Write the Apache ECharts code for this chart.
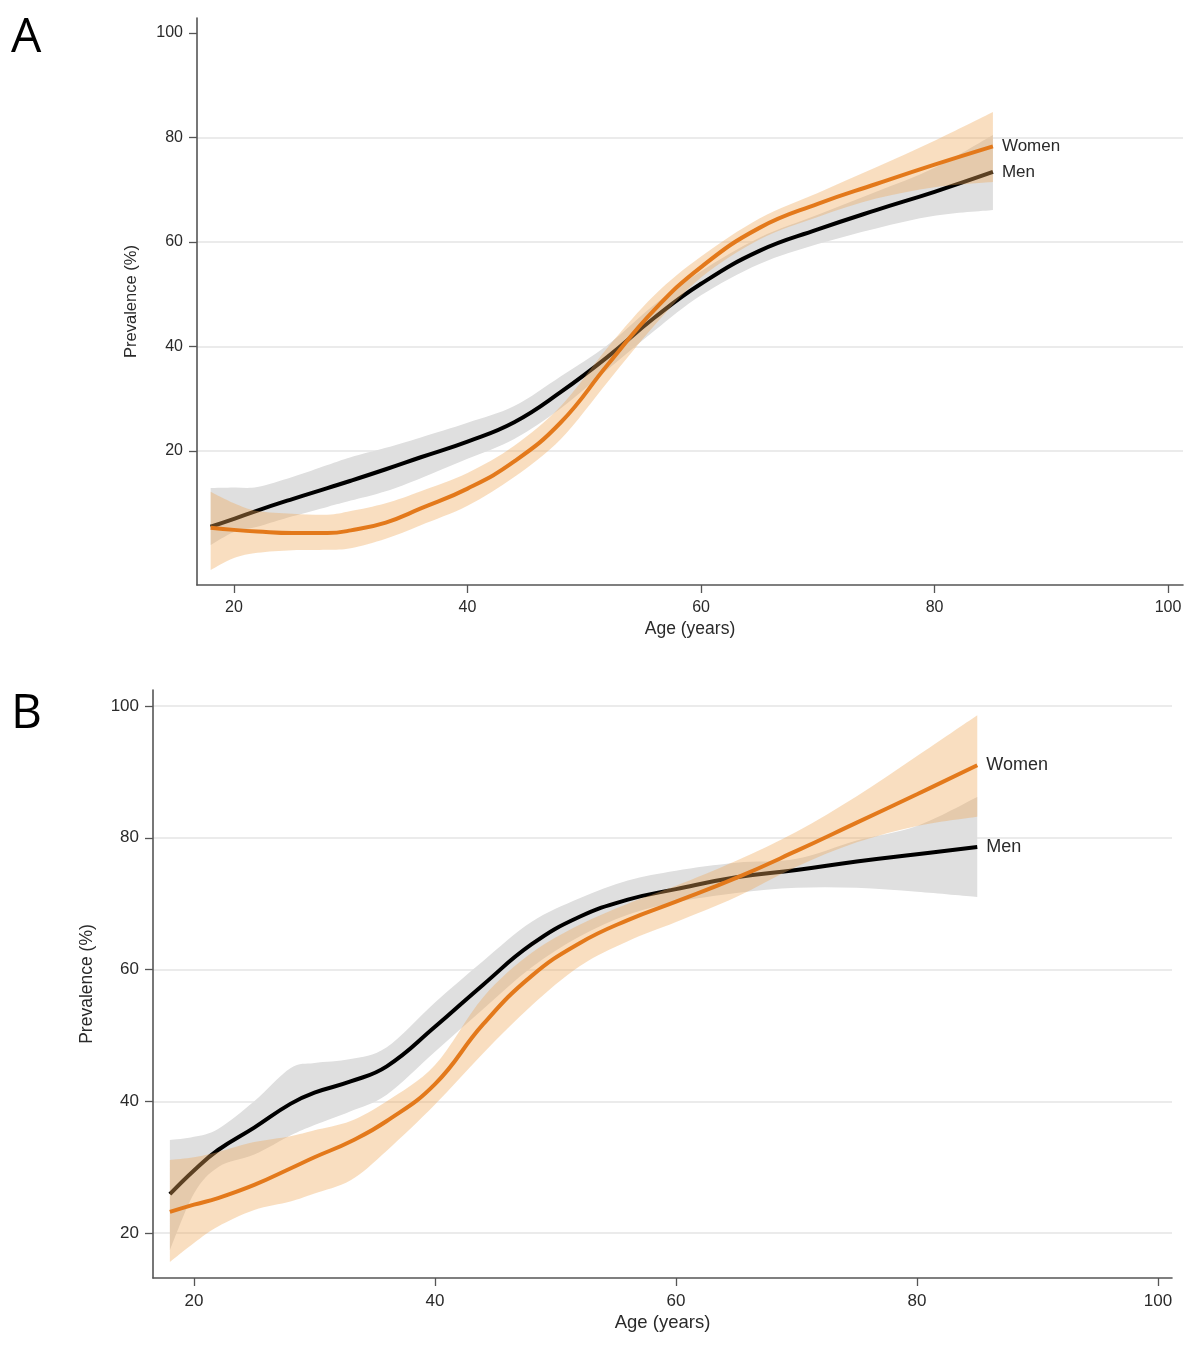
<!DOCTYPE html>
<html><head><meta charset="utf-8">
<script src="https://cdn.jsdelivr.net/npm/echarts@6/dist/echarts.min.js"></script>
<style>html,body{margin:0;padding:0;background:#fff}#c{width:1200px;height:1352px}</style>
</head><body><div id="c"></div>
<script>
// Age grid (years)
const ages = [18,20,22,25,28,30,33,36,40,44,48,52,56,60,65,70,75,80,85];
const tickValues = [20,40,60,80,100];

// Panel A
const menA     = [5.5,7.0,8.6,10.8,12.9,14.3,16.5,18.8,21.8,25.5,31.3,38.0,45.5,52.0,58.3,62.4,66.1,69.6,73.4];
const menALo   = [2.0,4.5,5.5,7.5,9.3,10.5,12.3,14.8,18.5,22.3,28.2,35.6,43.0,49.8,55.8,59.6,62.6,65.0,66.1];
const menAHi   = [12.9,13.0,13.1,15.0,17.3,18.8,20.6,22.6,25.4,28.6,34.3,40.3,48.0,54.4,60.8,65.2,69.6,74.2,80.5];
const womenA   = [5.3,4.9,4.6,4.3,4.3,4.8,6.3,9.0,12.8,18.0,25.5,36.5,47.0,55.2,62.7,67.3,71.1,74.8,78.3];
const womenALo = [-2.8,-0.5,0.5,1.0,1.1,1.4,3.2,5.8,9.5,15.0,22.3,33.2,44.0,53.2,60.5,64.8,68.3,70.5,71.5];
const womenAHi = [12.2,10.0,8.5,8.0,7.8,8.5,10.0,12.3,15.8,21.0,28.6,39.8,49.8,57.2,64.5,69.4,74.3,79.4,84.9];
const gridA = [20,40,60,80];

// Panel B
const menB     = [25.9,29.5,32.6,36.0,39.6,41.3,43.0,45.3,51.3,57.7,63.8,68.0,70.6,72.2,74.0,75.1,76.4,77.5,78.6];
const menBLo   = [17.4,26.0,30.0,31.9,34.8,36.4,38.5,41.0,47.5,54.0,60.3,65.0,68.3,70.2,71.6,72.4,72.4,71.8,71.0];
const menBHi   = [34.1,34.6,35.8,40.0,45.0,45.8,46.4,48.2,55.0,61.3,67.2,70.8,73.5,75.0,76.2,76.8,79.6,81.8,86.2];
const womenB   = [23.2,24.3,25.3,27.3,29.8,31.5,33.9,37.0,42.6,51.7,59.0,64.0,67.5,70.3,73.9,78.0,82.3,86.6,91.0];
const womenBLo = [15.6,18.5,21.0,23.5,24.8,26.0,28.0,32.5,39.5,47.3,54.5,60.5,64.3,67.2,71.0,75.6,79.3,81.8,83.2];
const womenBHi = [31.1,31.5,32.3,33.8,34.7,35.6,37.0,40.0,45.5,55.8,62.5,66.8,70.0,72.7,76.5,80.9,86.3,92.4,98.6];
const gridB = [20,40,60,80,100];

const FONT = "'Liberation Sans', Arial, Helvetica, sans-serif";
const AXIS_COLOR = '#555';
const TEXT_COLOR = '#2a2a2a';
const SMOOTH = 0.45;

function xAxisCfg(gi, min, max, fs, nfs) {
  return {
    type: 'value', gridIndex: gi, min: min, max: max,
    name: 'Age (years)', nameLocation: 'middle', nameGap: 35,
    nameTextStyle: {fontSize: nfs, color: TEXT_COLOR, fontFamily: FONT},
    axisLine: {show: true, onZero: false, lineStyle: {color: AXIS_COLOR, width: 1.6}},
    axisTick: {show: true, length: 8, customValues: tickValues, lineStyle: {color: AXIS_COLOR, width: 1.3}},
    axisLabel: {customValues: tickValues, fontSize: fs, color: TEXT_COLOR, fontFamily: FONT, margin: 15},
    splitLine: {show: false}
  };
}
function yAxisCfg(gi, min, max, fs, nfs, gap) {
  return {
    type: 'value', gridIndex: gi, min: min, max: max,
    name: 'Prevalence (%)', nameLocation: 'middle', nameGap: gap, nameRotate: 90,
    nameTextStyle: {fontSize: nfs, color: TEXT_COLOR, fontFamily: FONT},
    axisLine: {show: true, onZero: false, lineStyle: {color: AXIS_COLOR, width: 1.6}},
    axisTick: {show: true, length: 8, customValues: tickValues, lineStyle: {color: AXIS_COLOR, width: 1.3}},
    axisLabel: {customValues: tickValues, fontSize: fs, color: TEXT_COLOR, fontFamily: FONT, margin: 14},
    splitLine: {show: false}
  };
}
function pts(vals) { return ages.map((a, i) => [a, vals[i]]); }

// Catmull-Rom spline through pixel points -> SVG path segments
function splineSegs(p) {
  let d = '';
  for (let i = 0; i < p.length - 1; i++) {
    const p0 = p[i - 1] || p[i], p1 = p[i], p2 = p[i + 1], p3 = p[i + 2] || p[i + 1];
    const c1 = [p1[0] + (p2[0] - p0[0]) / 6, p1[1] + (p2[1] - p0[1]) / 6];
    const c2 = [p2[0] - (p3[0] - p1[0]) / 6, p2[1] - (p3[1] - p1[1]) / 6];
    d += ' C' + c1[0].toFixed(2) + ' ' + c1[1].toFixed(2) + ' ' + c2[0].toFixed(2) + ' ' + c2[1].toFixed(2) + ' ' + p2[0].toFixed(2) + ' ' + p2[1].toFixed(2);
  }
  return d;
}

function band(gi, lo, hi, color, z) {
  return {
    type: 'custom', xAxisIndex: gi, yAxisIndex: gi, z: z, silent: true,
    data: ages.map((a, i) => [a, lo[i], hi[i]]),
    encode: {x: 0, y: [1, 2]},
    renderItem: function (params, api) {
      if (params.dataIndex !== 0) return null;
      const up = ages.map((a, i) => api.coord([a, hi[i]]));
      const dn = ages.map((a, i) => api.coord([a, lo[i]])).reverse();
      let d = 'M' + up[0][0].toFixed(2) + ' ' + up[0][1].toFixed(2) + splineSegs(up);
      d += ' L' + dn[0][0].toFixed(2) + ' ' + dn[0][1].toFixed(2) + splineSegs(dn) + ' Z';
      return {
        type: 'path',
        shape: {pathData: d},
        style: {fill: color, stroke: null}
      };
    }
  };
}
function gridLines(gi, vals) {
  return {
    type: 'line', xAxisIndex: gi, yAxisIndex: gi, data: [], z: 0, silent: true,
    markLine: {
      silent: true, symbol: 'none', z: 0, animation: false,
      label: {show: false},
      lineStyle: {color: '#e4e4e4', type: 'solid', width: 1.5},
      data: vals.map(v => ({yAxis: v}))
    }
  };
}
function curve(gi, name, vals, color, z, fs) {
  return {
    type: 'line', name: name, xAxisIndex: gi, yAxisIndex: gi, data: pts(vals),
    symbol: 'none', smooth: SMOOTH, lineStyle: {color: color, width: 4}, z: z, silent: true,
    endLabel: {show: true, formatter: name, color: TEXT_COLOR, fontSize: fs, fontFamily: FONT, distance: 9}
  };
}

const GRAY = '#dfdfdf';
const PEACH = 'rgba(240,168,90,0.38)';
const ORANGE = '#e3791b';

const option = {
  animation: false,
  backgroundColor: '#fff',
  grid: [
    {left: 197, top: 18, width: 986, height: 567},
    {left: 153, top: 690, width: 1019, height: 588}
  ],
  xAxis: [xAxisCfg(0, 16.83, 101.28, 16, 17.5), xAxisCfg(1, 16.6, 101.16, 17, 18.5)],
  yAxis: [yAxisCfg(0, -5.65, 102.87, 16, 16.5, 57), yAxisCfg(1, 13.17, 102.43, 17, 17.5, 57)],
  graphic: [
    {type: 'text', left: 11, top: 14, style: {text: 'A', fontSize: 48, fontFamily: "'Open Sans', sans-serif", fill: '#000'}},
    {type: 'text', left: 11, top: 690, style: {text: 'B', fontSize: 48, fontFamily: "'Open Sans', sans-serif", fill: '#000'}}
  ],
  series: [
    gridLines(0, gridA),
    band(0, menALo, menAHi, GRAY, 1),
    curve(0, 'Men', menA, '#000', 2, 17),
    band(0, womenALo, womenAHi, PEACH, 3),
    curve(0, 'Women', womenA, ORANGE, 4, 17),
    gridLines(1, gridB),
    band(1, menBLo, menBHi, GRAY, 1),
    curve(1, 'Men', menB, '#000', 2, 18),
    band(1, womenBLo, womenBHi, PEACH, 3),
    curve(1, 'Women', womenB, ORANGE, 4, 18)
  ]
};
const chart = echarts.init(document.getElementById('c'));
chart.setOption(option);
</script></body></html>
